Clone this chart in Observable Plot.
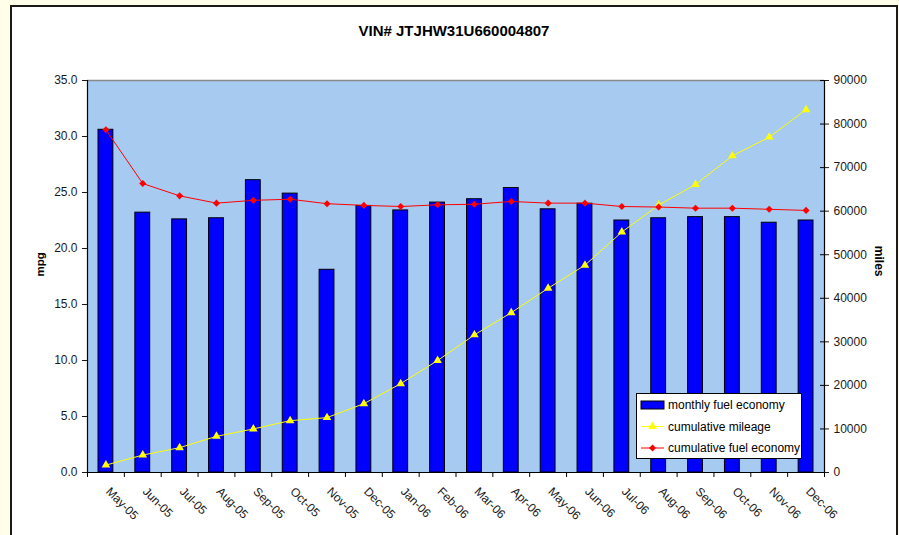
<!DOCTYPE html>
<html><head><meta charset="utf-8">
<script src="https://cdn.jsdelivr.net/npm/d3@7"></script>
<script src="https://cdn.jsdelivr.net/npm/@observablehq/plot@0.6"></script>
<style>
html,body{margin:0;padding:0;background:#FFFEE8;width:899px;height:535px;overflow:hidden;font-family:Arial,"Liberation Sans",sans-serif;}
#box{position:absolute;left:10px;top:5px;width:884px;height:600px;background:#fff;border:2px solid #1a1a1a;}
#chart{position:absolute;left:0;top:0;}
#title{position:absolute;left:10px;width:888px;top:22px;line-height:17px;text-align:center;font-weight:bold;font-size:15px;color:#000;}
#legend{position:absolute;left:636px;top:393px;}
</style></head><body>
<div id="box"></div>
<div id="title">VIN# JTJHW31U660004807</div>
<div id="chart"></div>
<div id="legend"></div>
<script>
const months = ["May-05","Jun-05","Jul-05","Aug-05","Sep-05","Oct-05","Nov-05","Dec-05","Jan-06","Feb-06","Mar-06","Apr-06","May-06","Jun-06","Jul-06","Aug-06","Sep-06","Oct-06","Nov-06","Dec-06"];
const monthlyMpg = [30.6, 23.2, 22.6, 22.7, 26.1, 24.9, 18.1, 23.8, 23.4, 24.1, 24.4, 25.4, 23.5, 24.0, 22.5, 22.7, 22.8, 22.8, 22.3, 22.5];
const cumulativeMiles = [1700, 4000, 5700, 8300, 10000, 11900, 12600, 15800, 20400, 25700, 31600, 36700, 42300, 47600, 55200, 61400, 66100, 72700, 77000, 83300];
const cumulativeMpg = [30.6, 25.8, 24.7, 24.05, 24.3, 24.4, 24.0, 23.85, 23.75, 23.9, 23.95, 24.2, 24.05, 24.05, 23.75, 23.7, 23.6, 23.6, 23.5, 23.4];
const mpgTicks = [0, 5, 10, 15, 20, 25, 30, 35];
const mileTicks = [0, 10000, 20000, 30000, 40000, 50000, 60000, 70000, 80000, 90000];
const seriesNames = ["monthly fuel economy", "cumulative mileage", "cumulative fuel economy"];

const mpgMax = 35, milesMax = 90000;
const toMpg = m => m * mpgMax / milesMax;
const n = months.length;
const rows = months.map((m, i) => ({i, month: m, monthly: monthlyMpg[i], miles: cumulativeMiles[i], cum: cumulativeMpg[i]}));
const cx = d => d.i + 0.5;

const chart = Plot.plot({
  width: 899, height: 535,
  marginLeft: 87, marginRight: 75, marginTop: 80, marginBottom: 63,
  style: {fontFamily: "Arial, 'Liberation Sans', sans-serif", fontSize: "12px", background: "transparent", color: "#1a1a1a", overflow: "visible"},
  x: {domain: [0, n], axis: null},
  y: {domain: [0, mpgMax], axis: null},
  marks: [
    Plot.frame({fill: "#A6CAF0", stroke: null}),
    Plot.ruleY([mpgMax], {stroke: "#8a8a8a", strokeWidth: 1.5}),
    Plot.rectY(rows, {x1: "i", x2: d => d.i + 1, y: "monthly", insetLeft: 11, insetRight: 11, fill: "#0000FF", stroke: "#000", strokeWidth: 1}),
    Plot.line(rows, {x: cx, y: d => toMpg(d.miles), stroke: "#FFFF00", strokeWidth: 1}),
    Plot.dot(rows, {x: cx, y: d => toMpg(d.miles), symbol: "triangle", r: 3.2, fill: "#FFFF00", stroke: null}),
    Plot.line(rows, {x: cx, y: "cum", stroke: "#FF0000", strokeWidth: 1}),
    Plot.dot(rows, {x: cx, y: "cum", symbol: "diamond2", r: 3.2, fill: "#FF0000", stroke: null}),
    Plot.ruleX([0, n], {stroke: "#000", strokeWidth: 1.2}),
    Plot.ruleY([0], {stroke: "#000", strokeWidth: 1.2}),
    Plot.axisY(mpgTicks, {anchor: "left", tickSize: 5, tickPadding: 5, tickFormat: d => d.toFixed(1), label: null, fontSize: 12}),
    Plot.axisY(mileTicks.map(toMpg), {anchor: "right", tickSize: 4, tickPadding: 5, tickFormat: d => String(Math.round(d * milesMax / mpgMax)), label: null, fontSize: 12}),
    Plot.ruleY(mileTicks.map(toMpg), {x1: n, x2: n, insetLeft: -4, stroke: "#000"}),
    Plot.ruleX(d3.range(n + 1), {y1: 0, y2: 0, insetBottom: -5, stroke: "#000"}),
    Plot.axisX(d3.range(n).map(i => i + 0.5), {anchor: "bottom", tickSize: 0, tickRotate: 45, tickPadding: 17, dx: 2, tickFormat: d => months[Math.floor(d)], label: null, fontSize: 12}),
    Plot.text(["mpg"], {frameAnchor: "left", dx: -47, rotate: -90, fontWeight: "bold", fontSize: 11.5, fill: "#000"}),
    Plot.text(["miles"], {frameAnchor: "right", dx: 54, rotate: 90, fontWeight: "bold", fontSize: 12, fill: "#000"})
  ]
});
document.getElementById("chart").appendChild(chart);

// Legend
const lg = d3.select("#legend").append("svg").attr("width", 166).attr("height", 66)
  .style("font-family", "Arial, 'Liberation Sans', sans-serif").style("font-size", "12px");
lg.append("rect").attr("x", 0.5).attr("y", 0.5).attr("width", 165).attr("height", 65).attr("fill", "#fff").attr("stroke", "#000");
const rowsY = [12, 33.5, 55];
lg.append("rect").attr("x", 5).attr("y", rowsY[0] - 4).attr("width", 23).attr("height", 8).attr("fill", "#0000FF").attr("stroke", "#000");
lg.append("line").attr("x1", 5).attr("x2", 28).attr("y1", rowsY[1]).attr("y2", rowsY[1]).attr("stroke", "#FFFF00");
lg.append("path").attr("d", d3.symbol(d3.symbolTriangle, 32)()).attr("transform", `translate(16.5,${rowsY[1]})`).attr("fill", "#FFFF00");
lg.append("line").attr("x1", 5).attr("x2", 28).attr("y1", rowsY[2]).attr("y2", rowsY[2]).attr("stroke", "#FF0000");
lg.append("path").attr("d", d3.symbol(d3.symbolDiamond2, 32)()).attr("transform", `translate(16.5,${rowsY[2]})`).attr("fill", "#FF0000");
seriesNames.forEach((s, k) => {
  lg.append("text").attr("x", 32).attr("y", rowsY[k]).attr("dy", "0.35em").attr("fill", "#000").text(s);
});
</script>
</body></html>
